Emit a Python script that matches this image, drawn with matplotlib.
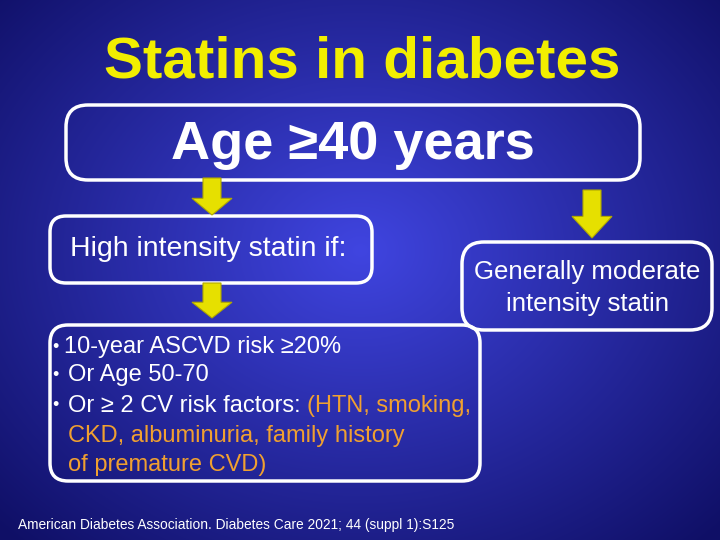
import numpy as np
import matplotlib.pyplot as plt
from matplotlib.patches import FancyBboxPatch, Polygon

title = "Statins in diabetes"
age_text = "Age \u226540 years"
high_text = "High intensity statin if:"
moderate_lines = ["Generally moderate", "intensity statin"]
bullet_lines = ["10-year ASCVD risk \u226520%", "Or Age 50-70", "Or \u2265 2 CV risk factors: "]
orange_lines = ["(HTN, smoking,", "CKD, albuminuria, family history", "of premature CVD)"]
footer = "American Diabetes Association. Diabetes Care 2021; 44 (suppl 1):S125"

plt.rcParams['font.family'] = ['Liberation Sans', 'DejaVu Sans']

fig = plt.figure(figsize=(7.2, 5.4), dpi=100)
ax = fig.add_axes([0, 0, 1, 1])
ax.set_xlim(0, 720)
ax.set_ylim(540, 0)
ax.axis('off')

# radial blue background
yy, xx = np.mgrid[0:540, 0:720]
r = np.sqrt(((xx - 360) / 500) ** 2 + ((yy - 250) / 400) ** 2)
r = np.clip(r, 0, 1)
c0 = np.array([0.25, 0.27, 0.88])
c1 = np.array([0.06, 0.06, 0.40])
img = c0 + (c1 - c0) * r[..., None]
ax.imshow(img, extent=[0, 720, 540, 0], aspect='auto', zorder=0)

def box(x0, y0, x1, y1, rad):
    ax.add_patch(FancyBboxPatch((x0 + rad, y0 + rad), x1 - x0 - 2 * rad, y1 - y0 - 2 * rad,
                                boxstyle="round,pad=%d" % rad, fc='none', ec='white',
                                lw=2.5, zorder=2))

def arrow(xc, y0, y1):
    sw, hw = 9, 20
    ym = y0 + (y1 - y0) * 0.55
    pts = [(xc - sw, y0), (xc + sw, y0), (xc + sw, ym), (xc + hw, ym),
           (xc, y1), (xc - hw, ym), (xc - sw, ym)]
    ax.add_patch(Polygon(pts, closed=True, fc='#e6e000', ec='#b0a800', lw=0.8, zorder=3))

yellow = '#f2ee00'
ax.text(362, 62, title, color=yellow, fontsize=42, fontweight='bold', ha='center', va='center')

box(66, 105, 640, 180, 22)
ax.text(353, 145, age_text, color='white', fontsize=39, fontweight='bold', ha='center', va='center')

arrow(212, 178, 215)
arrow(592, 190, 238)
arrow(212, 283, 318)

box(50, 216, 372, 283, 16)
ax.text(208, 249, high_text, color='white', fontsize=20.5, ha='center', va='center')

box(462, 242, 712, 330, 22)
for i, line in enumerate(moderate_lines):
    ax.text(587, 272 + i * 32, line, color='white', fontsize=18.5, ha='center', va='center')

box(50, 325, 480, 481, 18)
ys = [347, 375, 406, 436, 465]
for i, line in enumerate(bullet_lines):
    ax.text(52, ys[i], "\u2022", color='white', fontsize=13, ha='left', va='center')
    t = ax.text(64 if i == 0 else 68, ys[i], line, color='white', fontsize=17, ha='left', va='center')
fig.canvas.draw()
bb = t.get_window_extent()
x_end = ax.transData.inverted().transform((bb.x1, bb.y0))[0]
ax.text(x_end, ys[2], orange_lines[0], color='#f0a030', fontsize=17, ha='left', va='center')
ax.text(68, ys[3], orange_lines[1], color='#f0a030', fontsize=17, ha='left', va='center')
ax.text(68, ys[4], orange_lines[2], color='#f0a030', fontsize=17, ha='left', va='center')

ax.text(18, 525, footer, color='white', fontsize=9.9, ha='left', va='center')

fig.savefig('out.png', dpi=100)
